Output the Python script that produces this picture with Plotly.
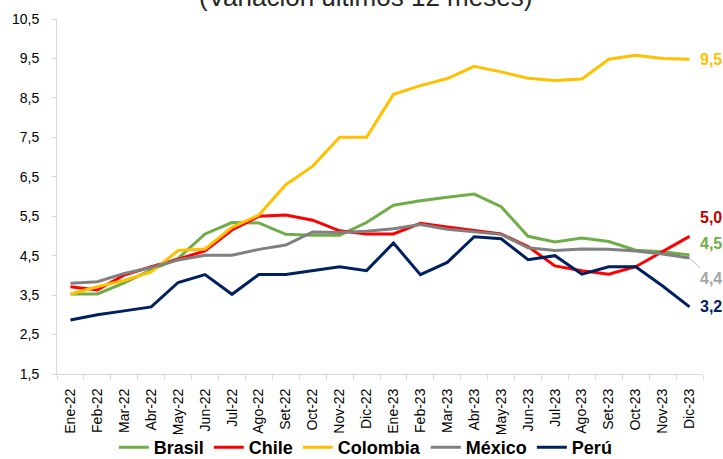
import plotly.graph_objects as go

months = ["Ene-22","Feb-22","Mar-22","Abr-22","May-22","Jun-22","Jul-22","Ago-22","Set-22","Oct-22","Nov-22","Dic-22",
          "Ene-23","Feb-23","Mar-23","Abr-23","May-23","Jun-23","Jul-23","Ago-23","Set-23","Oct-23","Nov-23","Dic-23"]

brasil = [3.53, 3.53, 3.81, 4.14, 4.43, 5.05, 5.34, 5.33, 5.04, 5.02, 5.02, 5.34,
          5.78, 5.89, 5.98, 6.06, 5.74, 4.99, 4.85, 4.95, 4.86, 4.64, 4.60, 4.52]
chile = [3.71, 3.63, 4.01, 4.22, 4.41, 4.62, 5.15, 5.50, 5.53, 5.40, 5.13, 5.05,
         5.05, 5.32, 5.23, 5.14, 5.05, 4.73, 4.24, 4.12, 4.03, 4.22, 4.60, 4.99]
colombia = [3.53, 3.71, 3.87, 4.09, 4.63, 4.67, 5.22, 5.53, 6.30, 6.77, 7.50, 7.50,
            8.59, 8.81, 8.99, 9.30, 9.16, 9.00, 8.94, 8.98, 9.48, 9.58, 9.50, 9.48]
mexico = [3.80, 3.84, 4.05, 4.20, 4.39, 4.51, 4.51, 4.66, 4.77, 5.10, 5.09, 5.12,
          5.18, 5.29, 5.17, 5.10, 5.04, 4.70, 4.63, 4.67, 4.66, 4.62, 4.54, 4.44]
peru = [2.87, 3.00, 3.10, 3.20, 3.82, 4.02, 3.52, 4.02, 4.02, 4.12, 4.22, 4.12,
        4.82, 4.02, 4.33, 4.98, 4.93, 4.40, 4.50, 4.03, 4.22, 4.22, 3.73, 3.20]

series_names = ["Brasil", "Chile", "Colombia", "México", "Perú"]
series_vals = [brasil, chile, colombia, mexico, peru]
colors = ["#70AD47", "#FF0000", "#FFC000", "#808080", "#002060"]

end_labels = ["4,5", "5,0", "9,5", "4,4", "3,2"]
label_colors = ["#70AD47", "#C00000", "#FFC000", "#A6A6A6", "#002060"]
label_y = [4.80, 5.48, 9.48, 3.96, 3.22]

yticks = [1.5, 2.5, 3.5, 4.5, 5.5, 6.5, 7.5, 8.5, 9.5, 10.5]

fig = go.Figure()
for name, vals, c in zip(series_names, series_vals, colors):
    fig.add_trace(go.Scatter(x=months, y=vals, mode="lines", name=name,
                             line=dict(color=c, width=3)))

for txt, col, yy in zip(end_labels, label_colors, label_y):
    if txt == "4,4":
        continue
    fig.add_annotation(x=23.3, y=yy, xref="x", yref="y", text=txt, showarrow=False,
                       xanchor="left", yanchor="middle",
                       font=dict(family="Liberation Sans, Arial", size=16, color=col, weight="bold"))

# México label with leader line
fig.add_annotation(x=23, y=mexico[-1], xref="x", yref="y", text="4,4", showarrow=True,
                   arrowhead=0, arrowwidth=0.8, arrowcolor="#A6A6A6", ax=21, ay=20,
                   xanchor="center", yanchor="middle",
                   font=dict(family="Liberation Sans, Arial", size=16, color="#A6A6A6", weight="bold"))

fig.add_annotation(x=0.478, y=1.0, xref="paper", yref="paper", yshift=5, text="(Variación últimos 12 meses)",
                   showarrow=False, xanchor="center", yanchor="bottom",
                   font=dict(family="Liberation Sans, Arial", size=26, color="#262626"))

fig.update_layout(
    width=723, height=459,
    margin=dict(l=57, r=20, t=19, b=85, autoexpand=False),
    paper_bgcolor="white", plot_bgcolor="white",
    separators=",.",
    showlegend=True,
    legend=dict(orientation="h", x=0.478, xanchor="center", y=-0.207, yanchor="middle",
                bgcolor="rgba(0,0,0,0)",
                font=dict(family="Liberation Sans, Arial", size=18, color="#000000", weight="bold"),
                itemwidth=30, tracegroupgap=0),
    font=dict(family="Liberation Sans, Arial", size=14, color="#000000"),
)
fig.update_xaxes(type="category", tickangle=-90, showgrid=False, showline=True,
                 linecolor="#D9D9D9", linewidth=1, ticks="outside", tickson="boundaries",
                 ticklen=5, tickcolor="#D9D9D9", tickfont=dict(size=14, color="#000000"),
                 ticklabelstandoff=8, range=[-0.5, 23.5], automargin=False)
fig.update_yaxes(range=[1.5, 10.5], tickvals=yticks, tickformat=".1f", showgrid=False,
                 showline=True, linecolor="#D9D9D9", linewidth=1, ticks="outside",
                 ticklen=4, tickcolor="#D9D9D9", tickfont=dict(size=14, color="#000000"),
                 ticklabelstandoff=10, zeroline=False, automargin=False)

fig.write_html("out.html", config={"displayModeBar": False},
               post_script="document.body.style.margin='0';document.body.style.overflow='hidden';")
